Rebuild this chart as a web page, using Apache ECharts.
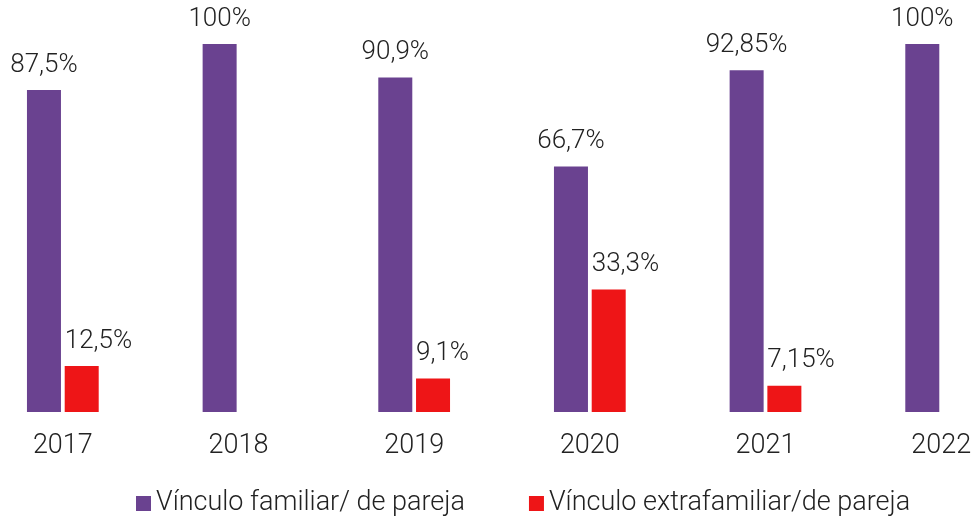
<!DOCTYPE html>
<html>
<head>
<meta charset="utf-8">
<script src="https://cdn.jsdelivr.net/npm/echarts@6/dist/echarts.min.js"></script>
<style>
  html, body { margin: 0; padding: 0; background: #fff; overflow: hidden; }
  #wrap { width: 974px; height: 519px; position: relative; overflow: hidden; }
  /* the bands run past both edges of the picture */
  #chart { width: 1054px; height: 519px; position: absolute; left: -25px; top: 0; }
</style>
</head>
<body>
<div id="wrap"><div id="chart"></div></div>
<script>
// datos
var years = ['2017', '2018', '2019', '2020', '2021', '2022'];
var familiar = [87.5, 100, 90.9, 66.7, 92.85, 100];
var extrafamiliar = [12.5, null, 9.1, 33.3, 7.15, null];
var seriesNames = ['Vínculo familiar/ de pareja', 'Vínculo extrafamiliar/de pareja'];

var chart = echarts.init(document.getElementById('chart'));

// 87.5 -> "87,5%"
function fmt(p) {
    return String(p.value).replace('.', ',') + '%';
}

function txt(size) {
    return {
        fontFamily: 'Roboto',
        fontWeight: 300,
        fontSize: size,
        color: '#222'
    };
}

var option = {
    animation: false,
    color: ['#6a4290', '#ee1517'],
    grid: {
        left: 0,
        right: 0,
        top: 44,
        bottom: 107
    },
    legend: {
        data: seriesNames,
        left: 161,
        bottom: 2,
        padding: 0,
        icon: 'rect',
        itemWidth: 15,
        itemHeight: 15,
        itemGap: 64,
        textStyle: txt(27)
    },
    xAxis: {
        type: 'category',
        data: years,
        axisLine: { show: false },
        axisTick: { show: false },
        axisLabel: Object.assign({ margin: 21 }, txt(27))
    },
    yAxis: {
        type: 'value',
        min: 0,
        max: 100,
        show: false
    },
    series: [
        {
            name: seriesNames[0],
            type: 'bar',
            data: familiar,
            barWidth: 34,
            barGap: '11%',
            label: Object.assign({
                show: true,
                position: 'top',
                distance: 12,
                formatter: fmt
            }, txt(26))
        },
        {
            name: seriesNames[1],
            type: 'bar',
            data: extrafamiliar,
            barWidth: 34,
            barGap: '11%',
            label: Object.assign({
                show: true,
                position: [0, -12],
                align: 'left',
                verticalAlign: 'bottom',
                formatter: fmt
            }, txt(26))
        }
    ]
};

chart.setOption(option);
</script>
</body>
</html>
